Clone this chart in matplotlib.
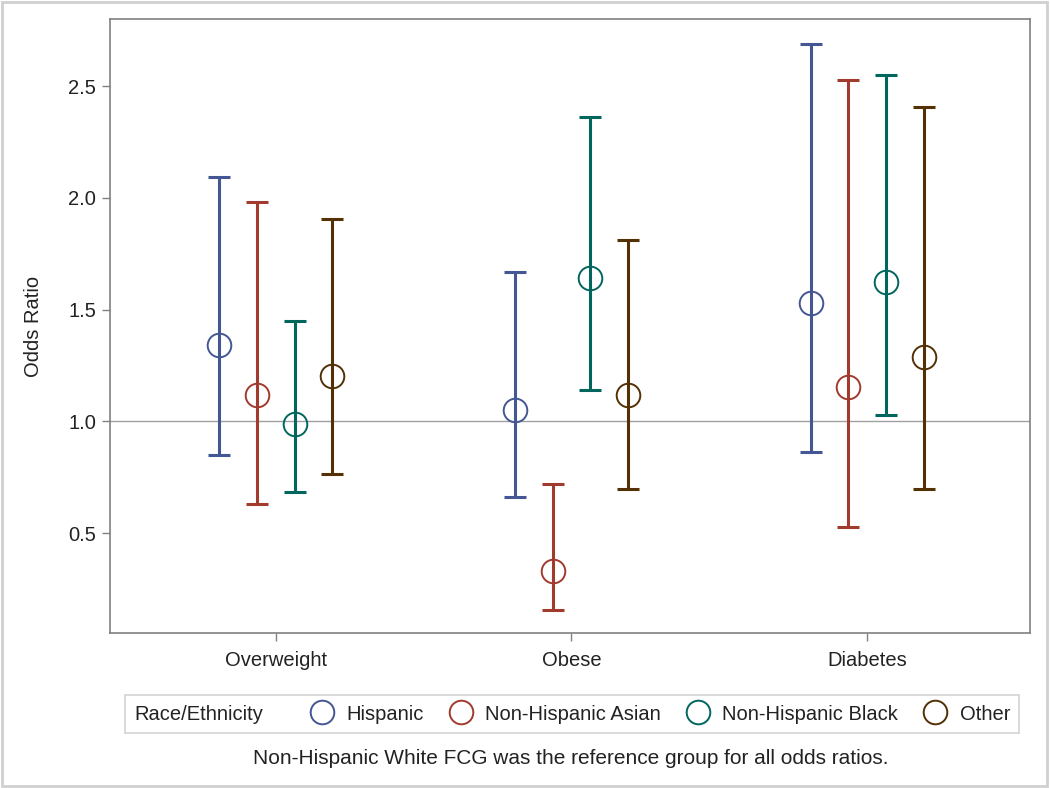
import matplotlib
matplotlib.use("Agg")
import matplotlib.pyplot as plt
from matplotlib.lines import Line2D
from matplotlib.patches import Rectangle
from matplotlib.offsetbox import HPacker
import numpy as np

plt.rcParams['font.family'] = ['Liberation Sans', 'DejaVu Sans']

categories = ["Overweight", "Obese", "Diabetes"]
groups = ["Hispanic", "Non-Hispanic Asian", "Non-Hispanic Black", "Other"]
colors = ["#445694", "#A23A2E", "#01665E", "#543005"]

# odds ratios [group][category]
or_vals = [
    [1.34, 1.05, 1.53],
    [1.12, 0.33, 1.155],
    [0.99, 1.64, 1.625],
    [1.205, 1.12, 1.29],
]
lower = [
    [0.85, 0.66, 0.865],
    [0.63, 0.155, 0.53],
    [0.685, 1.14, 1.03],
    [0.765, 0.70, 0.70],
]
upper = [
    [2.095, 1.67, 2.69],
    [1.98, 0.72, 2.525],
    [1.45, 2.36, 2.55],
    [1.905, 1.81, 2.405],
]
yticks = [0.5, 1.0, 1.5, 2.0, 2.5]

FS = 14.5
TXT = "#222222"

fig = plt.figure(figsize=(10.5, 7.88), dpi=100)
ax = fig.add_axes([110/1050, 1 - 633/788, (1030-110)/1050, (633-19)/788])

offsets = [-0.19, -0.064, 0.064, 0.19]
x = np.arange(len(categories))
ax.axhline(1.0, color="#a0a0a0", lw=1.0, zorder=1)
for g in range(len(groups)):
    xs = x + offsets[g]
    y = np.array(or_vals[g])
    lo = y - np.array(lower[g])
    hi = np.array(upper[g]) - y
    ax.errorbar(xs, y, yerr=[lo, hi], fmt='none', ecolor=colors[g],
                elinewidth=2.2, capsize=8, capthick=2.2, zorder=2)
    ax.plot(xs, y, 'o', ms=17, mfc='none', mec=colors[g], mew=1.4, zorder=4)

ax.set_xlim(-0.56, 2.55)
ax.set_ylim(0.054, 2.80)
ax.set_xticks(x)
ax.set_xticklabels(categories)
ax.set_yticks(yticks)
ax.set_yticklabels([f"{v:.1f}" for v in yticks])
ax.set_ylabel("Odds Ratio", fontsize=FS, labelpad=18, color=TXT)
ax.tick_params(labelsize=FS, color="#808080", labelcolor=TXT, length=6, width=1, pad=4)
ax.tick_params(axis='x', pad=7)
for s in ax.spines.values():
    s.set_color("#808080")
    s.set_linewidth(1.2)

# legend with inline title
handles = [Line2D([], [], ls='none', marker='o', ms=17, mfc='none',
                  mec=c, mew=1.4) for c in colors]
leg = fig.legend(handles, groups, loc='center', bbox_to_anchor=(572/1050, 1 - 714/788),
                 ncol=4, frameon=True, fontsize=FS, title="Race/Ethnicity",
                 title_fontsize=FS, handletextpad=0.6, columnspacing=1.25,
                 borderpad=0.45, handlelength=1.2, fancybox=False, labelcolor=TXT)
leg.get_frame().set_edgecolor("#c8c8c8")
leg.get_frame().set_linewidth(1.2)
leg.get_title().set_color(TXT)
title_box = leg._legend_title_box
children = leg._legend_box.get_children()
newbox = HPacker(pad=leg.borderpad * FS, sep=34, align="center",
                 children=[title_box, children[1]])
newbox.set_figure(fig)
newbox.set_offset(leg._findoffset)
leg._legend_box = newbox

fig.text(571/1050, 1 - 758/788, "Non-Hispanic White FCG was the reference group for all odds ratios.",
         ha='center', va='center', fontsize=FS + 0.5, color=TXT)

fig.patches.append(Rectangle((0.002, 0.003), 0.995, 0.994, transform=fig.transFigure,
                             fill=False, ec="#d0d0d0", lw=2))

fig.savefig("out.png", dpi=100)
